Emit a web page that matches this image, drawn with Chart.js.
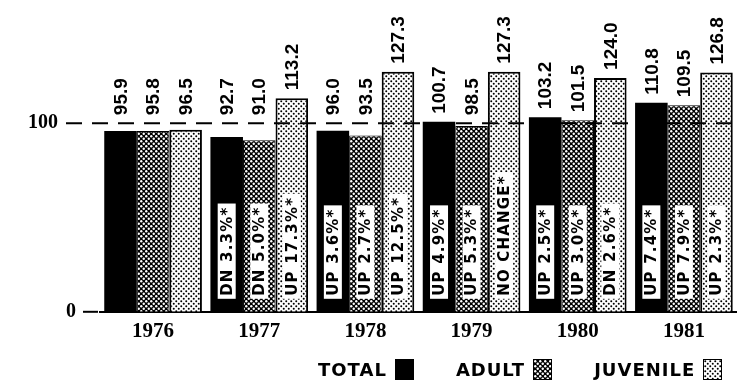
<!DOCTYPE html>
<html lang="en">
<head>
    <meta charset="UTF-8">
    <title>Total, adult and juvenile index 1976-1981</title>
    <script src="https://cdn.jsdelivr.net/npm/chart.js"></script>
    <style>
        html, body {
            margin: 0;
            padding: 0;
            background-color: #FFFFFF;
        }
        #wrap {
            position: relative;
            width: 737px;
            height: 382px;
        }
        #legend-container {
            position: absolute;
            left: 318px;
            top: 359px;
            display: flex;
            align-items: center;
            font-family: 'DejaVu Sans', sans-serif;
            font-weight: bold;
            font-size: 18px;
            letter-spacing: 1px;
            color: #000;
        }
        .legend-item {
            display: flex;
            align-items: center;
            margin-right: 42px;
        }
        .legend-item:last-child {
            margin-right: 0;
        }
        .legend-color {
            margin-left: 8px;
            border: 1px solid #000;
        }
    </style>
</head>
<body>
    <div id="wrap">
        <canvas id="myChart" width="737" height="382"></canvas>
        <div id="legend-container"></div>
    </div>

    <script>
        var years = ['1976', '1977', '1978', '1979', '1980', '1981'];
        var total = [95.9, 92.7, 96.0, 100.7, 103.2, 110.8];
        var adult = [95.8, 91.0, 93.5, 98.5, 101.5, 109.5];
        var juvenile = [96.5, 113.2, 127.3, 127.3, 124.0, 126.8];
        var totalChange = ['', 'DN 3.3%*', 'UP 3.6%*', 'UP 4.9%*', 'UP 2.5%*', 'UP 7.4%*'];
        var adultChange = ['', 'DN 5.0%*', 'UP 2.7%*', 'UP 5.3%*', 'UP 3.0%*', 'UP 7.9%*'];
        var juvenileChange = ['', 'UP 17.3%*', 'UP 12.5%*', 'NO CHANGE*', 'DN 2.6%*', 'UP 2.3%*'];
        var yTicks = [0, 100];
        var seriesNames = ['TOTAL', 'ADULT', 'JUVENILE'];

        var ctx = document.getElementById('myChart').getContext('2d');

        // dotted screen fills for the adult / juvenile bars
        function makeDots(bg, dot, size, r) {
            var c = document.createElement('canvas');
            c.width = size;
            c.height = size;
            var g = c.getContext('2d');
            g.fillStyle = bg;
            g.fillRect(0, 0, size, size);
            g.fillStyle = dot;
            [[size / 4, size / 4], [3 * size / 4, 3 * size / 4]].forEach(function (p) {
                g.beginPath();
                g.arc(p[0], p[1], r, 0, Math.PI * 2);
                g.fill();
            });
            return c;
        }
        var adultTile = makeDots('#000', '#fff', 5, 1.2);
        var juvTile = makeDots('#fff', '#000', 5, 1.0);
        var adultFill = ctx.createPattern(adultTile, 'repeat');
        var juvFill = ctx.createPattern(juvTile, 'repeat');

        var changes = [totalChange, adultChange, juvenileChange];

        var barLabels = {
            id: 'barLabels',
            afterDatasetsDraw: function (chart) {
                var c = chart.ctx;
                var yScale = chart.scales.y;
                var area = chart.chartArea;
                var y100 = yScale.getPixelForValue(100);
                var y0 = yScale.getPixelForValue(0);

                c.save();
                // dashed reference line at 100
                c.strokeStyle = '#000';
                c.lineWidth = 2;
                c.setLineDash([16, 10]);
                c.beginPath();
                c.moveTo(66, y100);
                c.lineTo(area.right, y100);
                c.stroke();
                c.setLineDash([]);

                // tick marks and y labels
                c.fillStyle = '#000';
                c.font = 'bold 20px "Liberation Serif", serif';
                c.textBaseline = 'middle';
                c.textAlign = 'right';
                yTicks.forEach(function (v) {
                    var py = yScale.getPixelForValue(v);
                    if (v === 0) {
                        c.fillText(String(v), 76, py);
                        c.beginPath();
                        c.moveTo(83, py);
                        c.lineTo(area.left - 2, py);
                        c.stroke();
                    } else {
                        c.fillText(String(v), 58, py);
                    }
                });

                chart.data.datasets.forEach(function (ds, di) {
                    var meta = chart.getDatasetMeta(di);
                    meta.data.forEach(function (bar, i) {
                        // value above the bar, kept clear of the 100 line
                        c.save();
                        c.translate(bar.x, Math.min(bar.y, y100) - 8);
                        c.rotate(-Math.PI / 2);
                        c.font = 'bold 19px "Liberation Sans", Arial, sans-serif';
                        c.textAlign = 'left';
                        c.textBaseline = 'middle';
                        c.fillStyle = '#000';
                        c.fillText(ds.data[i].toFixed(1), 0, 1);
                        c.restore();

                        // percent change inside the bar
                        var txt = changes[di][i];
                        if (!txt) return;
                        c.save();
                        c.translate(bar.x, y0 - 13);
                        c.rotate(-Math.PI / 2);
                        c.font = 'bold 15px "DejaVu Sans", sans-serif';
                        c.letterSpacing = '1.2px';
                        var w = c.measureText(txt).width;
                        c.fillStyle = '#fff';
                        c.fillRect(0, -9, w + 6, 18);
                        c.fillStyle = '#000';
                        c.textAlign = 'left';
                        c.textBaseline = 'middle';
                        c.fillText(txt, 3, 1);
                        c.restore();
                    });
                });
                c.restore();
            }
        };

        var myChart = new Chart(ctx, {
            type: 'bar',
            data: {
                labels: years,
                datasets: [{
                    label: seriesNames[0],
                    data: total,
                    backgroundColor: '#000',
                    borderColor: '#000',
                    borderWidth: 0
                }, {
                    label: seriesNames[1],
                    data: adult,
                    backgroundColor: adultFill,
                    borderColor: '#000',
                    borderWidth: 1,
                    borderSkipped: 'bottom'
                }, {
                    label: seriesNames[2],
                    data: juvenile,
                    backgroundColor: juvFill,
                    borderColor: '#000',
                    borderWidth: 2,
                    borderSkipped: 'bottom'
                }]
            },
            options: {
                responsive: false,
                animation: false,
                events: [],
                datasets: {
                    bar: {
                        barPercentage: 1.0,
                        categoryPercentage: 0.92
                    }
                },
                layout: {
                    padding: { left: 100, right: 0, top: 10, bottom: 31 }
                },
                scales: {
                    y: {
                        display: false,
                        min: 0,
                        max: 160
                    },
                    x: {
                        grid: { display: false, drawTicks: false },
                        border: { display: true, color: '#000', width: 2 },
                        ticks: {
                            color: '#000',
                            padding: 7,
                            font: { family: '"Liberation Serif", serif', weight: 'bold', size: 21 }
                        }
                    }
                },
                plugins: {
                    legend: { display: false },
                    tooltip: { enabled: false }
                }
            },
            plugins: [barLabels]
        });

        // legend: name first, swatch after
        var legendContainer = document.getElementById('legend-container');
        var swatchTiles = [null, adultTile, juvTile];
        seriesNames.forEach(function (name, index) {
            var item = document.createElement('div');
            item.classList.add('legend-item');

            var label = document.createElement('div');
            label.textContent = name;

            var sw = document.createElement('canvas');
            sw.width = 17;
            sw.height = 19;
            sw.classList.add('legend-color');
            var g = sw.getContext('2d');
            g.fillStyle = swatchTiles[index] ? g.createPattern(swatchTiles[index], 'repeat') : '#000';
            g.fillRect(0, 0, sw.width, sw.height);

            item.appendChild(label);
            item.appendChild(sw);
            legendContainer.appendChild(item);
        });
    </script>
</body>
</html>
